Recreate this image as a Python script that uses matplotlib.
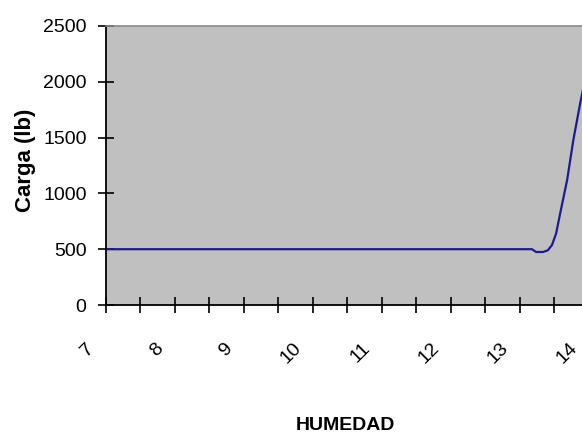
import numpy as np
import matplotlib
matplotlib.use("Agg")
import matplotlib.pyplot as plt
import matplotlib.transforms as mtransforms
from matplotlib import font_manager

# humedad vs carga
humedad = [7, 8, 9, 10, 11, 12, 13, 13.18, 13.24, 13.34, 13.41, 13.47, 13.53, 13.59, 13.69, 13.78, 13.88, 14.0]
carga = [500, 500, 500, 500, 500, 500, 500, 500, 475, 475, 490, 537, 640, 824, 1120, 1478, 1810, 2170]

x_labels = ["7", "8", "9", "10", "11", "12", "13", "14"]
y_ticks = [0, 500, 1000, 1500, 2000, 2500]

names = {f.name for f in font_manager.fontManager.ttflist}
narrow = "Liberation Sans Narrow" in names
plt.rcParams["font.family"] = (["Liberation Sans Narrow"] if narrow else []) + ["Liberation Sans", "DejaVu Sans"]
tick_fs = 17 if narrow else 14

fig = plt.figure(figsize=(5.82, 4.37), dpi=100)
W, H = 582, 437
# the plot area runs past the right edge of the figure
ax = fig.add_axes([106 / W, 1 - 305 / H, (588.5 - 106) / W, (305 - 26) / H])
ax.set_facecolor("#c0c0c0")

ax.plot(humedad, carga, color="#1c1c8e", linewidth=1.6, solid_joinstyle="round")

ax.set_xlim(7, 14)
ax.set_ylim(0, 2500)
ax.set_yticks(y_ticks)
ticks = np.arange(7, 14.01, 0.5)
ax.set_xticks(ticks)
ax.set_xticklabels([x_labels[int(t - 7)] if t == int(t) else "" for t in ticks])

ax.tick_params(axis="both", direction="inout", length=12, width=1.2, color="black",
               labelsize=tick_fs)
ax.tick_params(axis="y", pad=8)
ax.tick_params(axis="x", pad=19)
for lab in ax.get_xticklabels():
    lab.set_rotation(45)
    lab.set_ha("right")
    lab.set_va("top")
    lab.set_transform(lab.get_transform() +
                      mtransforms.ScaledTranslation(-8 / 100, 0, fig.dpi_scale_trans))

for side in ("left", "bottom"):
    ax.spines[side].set_color("black")
    ax.spines[side].set_linewidth(1.3)
ax.spines["top"].set_color("#8a8a8a")
ax.spines["top"].set_linewidth(1.2)
ax.spines["right"].set_visible(False)

fig.text(25 / W, 1 - 160 / H, "Carga (lb)", rotation=90, ha="center", va="center",
         fontsize=19 if narrow else 16, fontweight="bold")
fig.text(345 / W, 1 - 425 / H, "HUMEDAD", ha="center", va="center",
         fontsize=17 if narrow else 14, fontweight="bold")

fig.savefig("out.png", dpi=100)
